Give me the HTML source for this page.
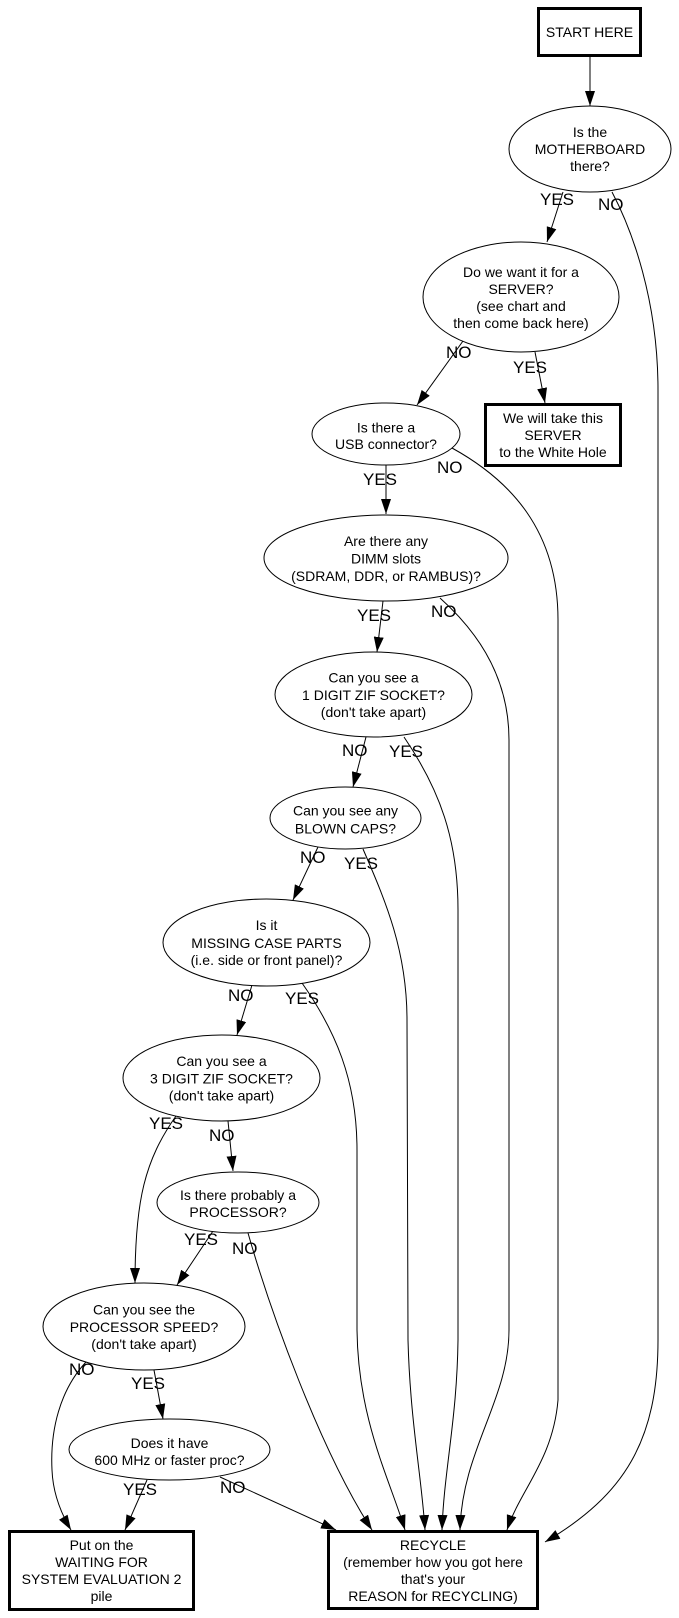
<!DOCTYPE html>
<html><head><meta charset="utf-8"><style>
html,body{margin:0;padding:0;background:#fff;}
svg{display:block;}
text{font-family:"Liberation Sans",Arial,sans-serif;fill:#000;}
.n{font-size:14px;text-anchor:middle;}
.l{font-size:17px;}
.e{fill:none;stroke:#000;stroke-width:1;}
.b{fill:none;stroke:#000;stroke-width:3;}
.o{fill:#fff;stroke:#000;stroke-width:1;}
</style></head><body>
<svg width="679" height="1618" viewBox="0 0 679 1618" xmlns="http://www.w3.org/2000/svg">
<defs>
<marker id="a" markerWidth="15" markerHeight="10" refX="15" refY="5" orient="auto" markerUnits="userSpaceOnUse"><path d="M0,0 L15,5 L0,10 z" fill="#000"/></marker>
</defs>
<rect width="679" height="1618" fill="#fff"/>

<!-- edges -->
<path class="e" marker-end="url(#a)" d="M590,57 L590,106"/>
<path class="e" marker-end="url(#a)" d="M563,192 L547,242"/>
<path class="e" marker-end="url(#a)" d="M612,192 C632,230 658,300 658,390 L658,1340 C658,1440 625,1495 545,1542"/>
<path class="e" marker-end="url(#a)" d="M463,341 L417,405"/>
<path class="e" marker-end="url(#a)" d="M535,352 L545,403"/>
<path class="e" marker-end="url(#a)" d="M386,465 L386,514"/>
<path class="e" marker-end="url(#a)" d="M452,448 C510,480 558,530 558,620 L558,1400 C553,1460 520,1490 507,1530"/>
<path class="e" marker-end="url(#a)" d="M383,601 L377,652"/>
<path class="e" marker-end="url(#a)" d="M440,598 C470,625 509,670 509,740 L509,1330 C509,1400 462,1450 460,1530"/>
<path class="e" marker-end="url(#a)" d="M366,737 L353,787"/>
<path class="e" marker-end="url(#a)" d="M404,737 C440,790 458,840 458,910 L458,1340 C457,1420 444,1470 442,1530"/>
<path class="e" marker-end="url(#a)" d="M318,847 L293,900"/>
<path class="e" marker-end="url(#a)" d="M363,849 C385,900 407,950 407,1020 L408,1340 C410,1420 422,1480 425,1530"/>
<path class="e" marker-end="url(#a)" d="M252,985 L237,1035"/>
<path class="e" marker-end="url(#a)" d="M302,983 C335,1030 357,1080 357,1150 L357,1330 C358,1420 390,1480 405,1530"/>
<path class="e" marker-end="url(#a)" d="M228,1121 L233,1171"/>
<path class="e" marker-end="url(#a)" d="M176,1116 C145,1160 135,1200 135,1283"/>
<path class="e" marker-end="url(#a)" d="M213,1231 L177,1285"/>
<path class="e" marker-end="url(#a)" d="M248,1233 C270,1310 320,1450 372,1530"/>
<path class="e" marker-end="url(#a)" d="M154,1370 L163,1419"/>
<path class="e" marker-end="url(#a)" d="M86,1362 C60,1390 50,1430 52,1470 C53,1495 62,1515 71,1530"/>
<path class="e" marker-end="url(#a)" d="M147,1480 L125,1530"/>
<path class="e" marker-end="url(#a)" d="M220,1477 L336,1530"/>

<!-- nodes -->
<rect class="b" x="538.5" y="8.5" width="102" height="47"/>
<text class="n" x="589.5" y="37">START HERE</text>

<ellipse class="o" cx="590" cy="149" rx="81" ry="43"/>
<text class="n" x="590" y="137">Is the</text>
<text class="n" x="590" y="154">MOTHERBOARD</text>
<text class="n" x="590" y="171">there?</text>

<ellipse class="o" cx="521" cy="297" rx="98" ry="55"/>
<text class="n" x="521" y="277">Do we want it for a</text>
<text class="n" x="521" y="294">SERVER?</text>
<text class="n" x="521" y="311">(see chart and</text>
<text class="n" x="521" y="328">then come back here)</text>

<rect class="b" x="485.5" y="404.5" width="135" height="61"/>
<text class="n" x="553" y="423">We will take this</text>
<text class="n" x="553" y="440">SERVER</text>
<text class="n" x="553" y="457">to the White Hole</text>

<ellipse class="o" cx="386" cy="434" rx="74" ry="31"/>
<text class="n" x="386" y="432.5">Is there a</text>
<text class="n" x="386" y="449">USB connector?</text>

<ellipse class="o" cx="386" cy="558" rx="122" ry="43"/>
<text class="n" x="386" y="546">Are there any</text>
<text class="n" x="386" y="563.5">DIMM slots</text>
<text class="n" x="386" y="581">(SDRAM, DDR, or RAMBUS)?</text>

<ellipse class="o" cx="373.5" cy="694.5" rx="98.5" ry="42.5"/>
<text class="n" x="373.5" y="682.5">Can you see a</text>
<text class="n" x="373.5" y="700">1 DIGIT ZIF SOCKET?</text>
<text class="n" x="373.5" y="717">(don't take apart)</text>

<ellipse class="o" cx="345.5" cy="818" rx="75.5" ry="31"/>
<text class="n" x="345.5" y="815.5">Can you see any</text>
<text class="n" x="345.5" y="833.5">BLOWN CAPS?</text>

<ellipse class="o" cx="266.5" cy="942.5" rx="103.5" ry="43.5"/>
<text class="n" x="266.5" y="930">Is it</text>
<text class="n" x="266.5" y="948">MISSING CASE PARTS</text>
<text class="n" x="266.5" y="965">(i.e. side or front panel)?</text>

<ellipse class="o" cx="221.5" cy="1078" rx="98.5" ry="43"/>
<text class="n" x="221.5" y="1066">Can you see a</text>
<text class="n" x="221.5" y="1083.5">3 DIGIT ZIF SOCKET?</text>
<text class="n" x="221.5" y="1100.5">(don't take apart)</text>

<ellipse class="o" cx="238" cy="1202.5" rx="81" ry="30.5"/>
<text class="n" x="238" y="1200">Is there probably a</text>
<text class="n" x="238" y="1217">PROCESSOR?</text>

<ellipse class="o" cx="144" cy="1326.5" rx="101" ry="43.5"/>
<text class="n" x="144" y="1314.5">Can you see the</text>
<text class="n" x="144" y="1332">PROCESSOR SPEED?</text>
<text class="n" x="144" y="1349">(don't take apart)</text>

<ellipse class="o" cx="169.5" cy="1449.5" rx="100.5" ry="30.5"/>
<text class="n" x="169.5" y="1448">Does it have</text>
<text class="n" x="169.5" y="1465">600 MHz or faster proc?</text>

<rect class="b" x="9.5" y="1531.5" width="184" height="78"/>
<text class="n" x="101.5" y="1550">Put on the</text>
<text class="n" x="101.5" y="1567">WAITING FOR</text>
<text class="n" x="101.5" y="1584">SYSTEM EVALUATION 2</text>
<text class="n" x="101.5" y="1601">pile</text>

<rect class="b" x="328.5" y="1531.5" width="209" height="77"/>
<text class="n" x="433" y="1550">RECYCLE</text>
<text class="n" x="433" y="1567">(remember how you got here</text>
<text class="n" x="433" y="1584">that's your</text>
<text class="n" x="433" y="1601">REASON for RECYCLING)</text>

<!-- edge labels -->
<text class="l" x="540" y="205">YES</text>
<text class="l" x="598" y="210">NO</text>
<text class="l" x="446" y="358">NO</text>
<text class="l" x="513" y="373">YES</text>
<text class="l" x="437" y="473">NO</text>
<text class="l" x="363" y="485">YES</text>
<text class="l" x="357" y="621">YES</text>
<text class="l" x="431" y="617">NO</text>
<text class="l" x="342" y="756">NO</text>
<text class="l" x="389" y="757">YES</text>
<text class="l" x="300" y="863">NO</text>
<text class="l" x="344" y="869">YES</text>
<text class="l" x="228" y="1001">NO</text>
<text class="l" x="285" y="1004">YES</text>
<text class="l" x="149" y="1129">YES</text>
<text class="l" x="209" y="1141">NO</text>
<text class="l" x="184" y="1245">YES</text>
<text class="l" x="232" y="1254">NO</text>
<text class="l" x="69" y="1375">NO</text>
<text class="l" x="131" y="1389">YES</text>
<text class="l" x="123" y="1495">YES</text>
<text class="l" x="220" y="1493">NO</text>
</svg>
</body></html>
